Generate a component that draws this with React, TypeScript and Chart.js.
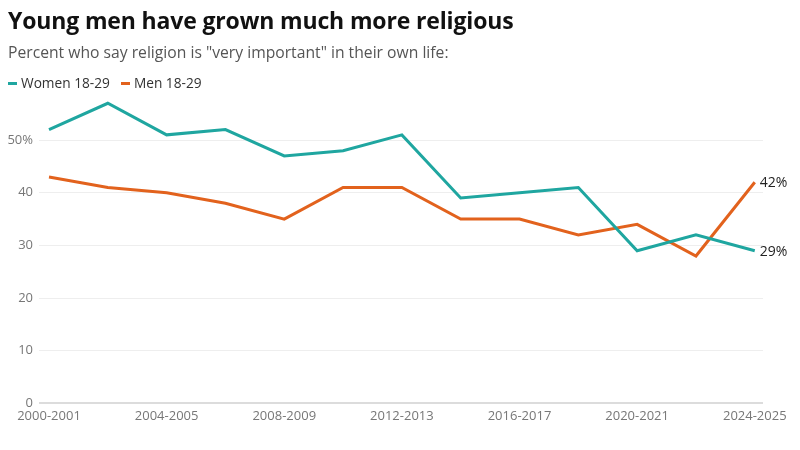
import { useEffect, useRef } from "react"
import { Chart, registerables, type ChartConfiguration, type Plugin } from "chart.js"

Chart.register(...registerables)

// survey periods, one point every two years
const periods = [
  "2000-2001", "2002-2003", "2004-2005", "2006-2007", "2008-2009", "2010-2011", "2012-2013",
  "2014-2015", "2016-2017", "2018-2019", "2020-2021", "2022-2023", "2024-2025",
]
const women = [52, 57, 51, 52, 47, 48, 51, 39, 40, 41, 29, 32, 29]
const men = [43, 41, 40, 38, 35, 41, 41, 35, 35, 32, 34, 28, 42]
const yTicks = [0, 10, 20, 30, 40, 50]
const xTicks = [0, 2, 4, 6, 8, 10, 12]

const TEAL = "#1fa6a0"
const ORANGE = "#e2621d"
const FONT = "'Open Sans', 'DejaVu Sans', sans-serif"

// writes the last value of each line next to its end point
const endLabels: Plugin<"line"> = {
  id: "endLabels",
  afterDatasetsDraw(chart) {
    const { ctx } = chart
    ctx.save()
    ctx.font = `14px ${FONT}`
    ctx.fillStyle = "#222"
    ctx.textAlign = "left"
    ctx.textBaseline = "middle"
    chart.data.datasets.forEach((ds, i) => {
      const meta = chart.getDatasetMeta(i)
      const last = meta.data[meta.data.length - 1]
      const v = (ds.data[ds.data.length - 1] as { y: number }).y
      ctx.fillText(`${v}%`, last.x + 5, last.y + 1)
    })
    ctx.restore()
  },
}

export default function App() {
  const chartRef = useRef<HTMLCanvasElement>(null)
  const chartInstance = useRef<Chart | null>(null)

  useEffect(() => {
    if (!chartRef.current) return
    const ctx = chartRef.current.getContext("2d")
    if (!ctx) return
    if (chartInstance.current) chartInstance.current.destroy()

    const config: ChartConfiguration<"line"> = {
      type: "line",
      data: {
        datasets: [
          {
            label: "Women 18-29",
            data: women.map((y, i) => ({ x: i, y })),
            borderColor: TEAL,
            backgroundColor: TEAL,
            borderWidth: 3,
            pointRadius: 0,
            tension: 0,
          },
          {
            label: "Men 18-29",
            data: men.map((y, i) => ({ x: i, y })),
            borderColor: ORANGE,
            backgroundColor: ORANGE,
            borderWidth: 3,
            pointRadius: 0,
            tension: 0,
          },
        ],
      },
      options: {
        responsive: false,
        animation: false,
        layout: { padding: { left: 8, right: 37, top: 98, bottom: 21 } },
        plugins: {
          legend: { display: false },
          tooltip: { enabled: false },
        },
        scales: {
          x: {
            type: "linear",
            min: -0.17,
            max: 12.14,
            grid: { display: false, drawTicks: false },
            border: { display: false },
            afterBuildTicks: (scale) => {
              scale.ticks = xTicks.map((value) => ({ value }))
            },
            ticks: {
              autoSkip: false,
              maxRotation: 0,
              padding: 5,
              color: "#777",
              font: { family: FONT, size: 13 },
              callback: (value) => periods[Number(value)] ?? "",
            },
          },
          y: {
            min: 0,
            max: 58,
            afterFit: (scale) => {
              scale.width = 31
            },
            afterBuildTicks: (scale) => {
              scale.ticks = yTicks.map((value) => ({ value }))
            },
            grid: {
              drawTicks: false,
              color: (c) => (c.tick && c.tick.value === 0 ? "#dcdcdc" : "#eeeeee"),
              lineWidth: (c) => (c.tick && c.tick.value === 0 ? 2 : 1),
            },
            border: { display: false },
            ticks: {
              padding: 6,
              color: "#777",
              font: { family: FONT, size: 13 },
              callback: (value) => (value === 50 ? "50%" : String(value)),
            },
          },
        },
      },
      plugins: [endLabels],
    }

    chartInstance.current = new Chart(ctx, config)
    return () => {
      if (chartInstance.current) {
        chartInstance.current.destroy()
        chartInstance.current = null
      }
    }
  }, [])

  const swatch = (color: string) => (
    <span style={{ display: "inline-block", width: 9, height: 3, background: color, marginRight: 4, verticalAlign: "middle", position: "relative", top: -1 }} />
  )

  return (
    <div style={{ position: "absolute", left: 0, top: 0, width: 800, height: 450, background: "#fff", fontFamily: FONT }}>
      <canvas ref={chartRef} width={800} height={450} style={{ position: "absolute", left: 0, top: 0 }} />
      <div style={{ position: "absolute", left: 8, top: 4, fontSize: 23, fontWeight: 700, color: "#111", letterSpacing: -0.15, whiteSpace: "nowrap" }}>
        Young men have grown much more religious
      </div>
      <div style={{ position: "absolute", left: 8, top: 41, fontSize: 15.7, color: "#555", whiteSpace: "nowrap" }}>
        Percent who say religion is "very important" in their own life:
      </div>
      <div style={{ position: "absolute", left: 8, top: 73, fontSize: 13.7, color: "#333", whiteSpace: "nowrap" }}>
        {swatch(TEAL)}Women 18-29
        <span style={{ display: "inline-block", width: 11 }} />
        {swatch(ORANGE)}Men 18-29
      </div>
    </div>
  )
}
